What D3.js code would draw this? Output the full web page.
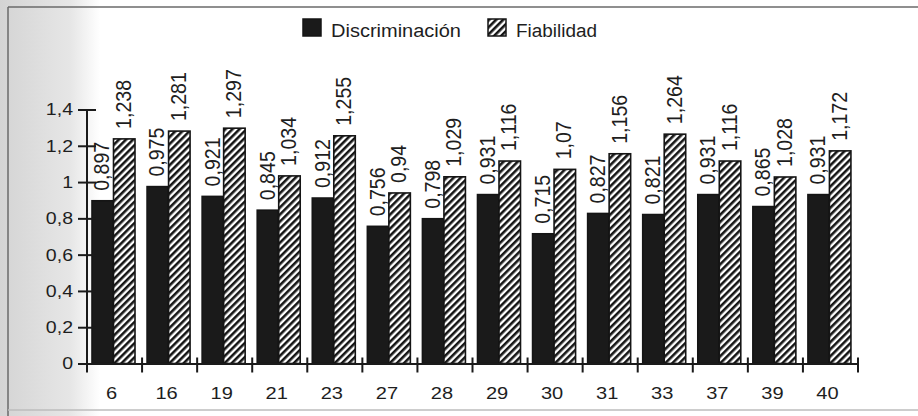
<!DOCTYPE html>
<html>
<head>
  <meta charset="utf-8">
  <title>Discriminación y Fiabilidad</title>
  <script src="https://d3js.org/d3.v7.min.js"></script>
  <style>
    body { margin: 0; background: #fff; }
    text { font-family: "Liberation Sans", Arial, sans-serif; fill: #1e1e1e; }
  </style>
</head>
<body>
  <svg id="chart"></svg>

  <script>
    // datos
    var categories = ["6", "16", "19", "21", "23", "27", "28", "29", "30", "31", "33", "37", "39", "40"];
    var discriminacion = [0.897, 0.975, 0.921, 0.845, 0.912, 0.756, 0.798, 0.931, 0.715, 0.827, 0.821, 0.931, 0.865, 0.931];
    var fiabilidad = [1.238, 1.281, 1.297, 1.034, 1.255, 0.94, 1.029, 1.116, 1.07, 1.156, 1.264, 1.116, 1.028, 1.172];
    var series = ["Discriminación", "Fiabilidad"];
    var yTicks = [0, 0.2, 0.4, 0.6, 0.8, 1, 1.2, 1.4];

    var coma = function(v) { return String(v).replace(".", ","); };

    var svg = d3.select("#chart")
      .attr("width", 918)
      .attr("height", 416);

    var defs = svg.append("defs");

    // rayado diagonal
    defs.append("pattern")
      .attr("id", "rayas")
      .attr("patternUnits", "userSpaceOnUse")
      .attr("width", 5)
      .attr("height", 5)
      .attr("patternTransform", "rotate(45)")
      .call(function(p) {
        p.append("rect").attr("width", 5).attr("height", 5).attr("fill", "#fff");
        p.append("line")
          .attr("x1", 1.3).attr("x2", 1.3)
          .attr("y1", 0).attr("y2", 5)
          .attr("stroke", "#151515")
          .attr("stroke-width", 2.6);
      });

    // fondo gris del escaneo a la izquierda
    var grad = defs.append("linearGradient").attr("id", "sombra");
    grad.append("stop").attr("offset", "0%").attr("stop-color", "#d4d4d4");
    grad.append("stop").attr("offset", "70%").attr("stop-color", "#e6e6e6");
    grad.append("stop").attr("offset", "100%").attr("stop-color", "#ffffff");
    svg.append("rect")
      .attr("x", 0).attr("y", 0)
      .attr("width", 100).attr("height", 416)
      .attr("fill", "url(#sombra)");

    // marco
    svg.append("line")
      .attr("x1", 8).attr("x2", 918).attr("y1", 7).attr("y2", 7)
      .attr("stroke", "#6a6a6a").attr("stroke-width", 1.5);
    svg.append("line")
      .attr("x1", 8).attr("x2", 8).attr("y1", 7).attr("y2", 416)
      .attr("stroke", "#6a6a6a").attr("stroke-width", 1.5);
    svg.append("line")
      .attr("x1", 8).attr("x2", 918).attr("y1", 410).attr("y2", 410)
      .attr("stroke", "#bdbdbd").attr("stroke-width", 1.5);

    // escalas
    var x = d3.scaleBand()
      .domain(categories)
      .range([87, 858]);

    var xs = d3.scaleBand()
      .domain(series)
      .range([5, 48]);

    var y = d3.scaleLinear()
      .domain([0, 1.4])
      .range([363.5, 109.5]);

    var filas = categories.map(function(c, i) {
      return { cat: c, valores: [discriminacion[i], fiabilidad[i]] };
    });

    // barras
    var grupos = svg.append("g").selectAll("g")
      .data(filas)
      .join("g")
      .attr("transform", function(d) { return "translate(" + x(d.cat) + ",0)"; });

    grupos.selectAll("rect")
      .data(function(d) { return d.valores.map(function(v, j) { return { s: series[j], v: v }; }); })
      .join("rect")
      .attr("x", function(d) { return xs(d.s); })
      .attr("width", xs.bandwidth())
      .attr("y", function(d) { return y(d.v); })
      .attr("height", function(d) { return y(0) - y(d.v); })
      .attr("fill", function(d) { return d.s === series[0] ? "#1a1a1a" : "url(#rayas)"; })
      .attr("stroke", "#151515")
      .attr("stroke-width", 1.6);

    // etiquetas de valor
    grupos.selectAll("text")
      .data(function(d) { return d.valores.map(function(v, j) { return { s: series[j], v: v }; }); })
      .join("text")
      .attr("transform", function(d) {
        return "translate(" + (xs(d.s) + xs.bandwidth() / 2 - 1) + "," + (y(d.v) - 10) + ") rotate(-90) scale(1.03,1.15)";
      })
      .attr("dy", "0.35em")
      .style("font-size", "19px")
      .text(function(d) { return coma(d.v); });

    // eje Y
    var ejeY = svg.append("g")
      .attr("transform", "translate(87,0)")
      .call(d3.axisLeft(y).tickValues(yTicks).tickSizeInner(9).tickSizeOuter(0).tickPadding(14).tickFormat(coma));
    ejeY.select(".domain").attr("stroke", "#1a1a1a").attr("stroke-width", 2).attr("d", "M0," + y(1.4) + "V372");
    ejeY.selectAll(".tick line").attr("x1", 9).attr("stroke", "#1a1a1a").attr("stroke-width", 2);
    ejeY.selectAll(".tick text")
      .attr("x", null)
      .attr("transform", "translate(-14,0) scale(1.15,1)")
      .style("font-size", "17px")
      .style("font-family", "'Liberation Sans', Arial, sans-serif")
      .attr("fill", "#1e1e1e");

    // eje X
    var ejeX = svg.append("g")
      .attr("transform", "translate(0," + y(0) + ")")
      .call(d3.axisBottom(x).tickSize(0).tickPadding(0));
    ejeX.select(".domain").attr("stroke", "#1a1a1a").attr("stroke-width", 2);
    ejeX.selectAll(".tick text")
      .attr("y", null).attr("dy", null)
      .attr("transform", "translate(-3,35) scale(1.18,1)")
      .style("font-size", "17px")
      .style("font-family", "'Liberation Sans', Arial, sans-serif")
      .attr("fill", "#1e1e1e");

    // marcas entre categorías
    var limites = categories.map(function(c) { return x(c); }).concat([x.range()[1]]);
    svg.append("g").selectAll("line")
      .data(limites)
      .join("line")
      .attr("x1", function(d) { return d; })
      .attr("x2", function(d) { return d; })
      .attr("y1", y(0) - 6)
      .attr("y2", y(0) + 9)
      .attr("stroke", "#1a1a1a")
      .attr("stroke-width", 2);

    // leyenda
    var leyenda = svg.append("g");
    var posLeyenda = [{ x: 303, w: 130 }, { x: 488, w: 81 }];
    series.forEach(function(s, i) {
      var g = leyenda.append("g").attr("transform", "translate(" + posLeyenda[i].x + ",19)");
      g.append("rect")
        .attr("width", 18).attr("height", 17)
        .attr("fill", i === 0 ? "#1a1a1a" : "url(#rayas)")
        .attr("stroke", "#151515").attr("stroke-width", 1.5);
      g.append("text")
        .attr("x", 28).attr("y", 18)
        .attr("textLength", posLeyenda[i].w)
        .attr("lengthAdjust", "spacingAndGlyphs")
        .style("font-size", "18px")
        .text(s);
    });
  </script>
</body>
</html>
